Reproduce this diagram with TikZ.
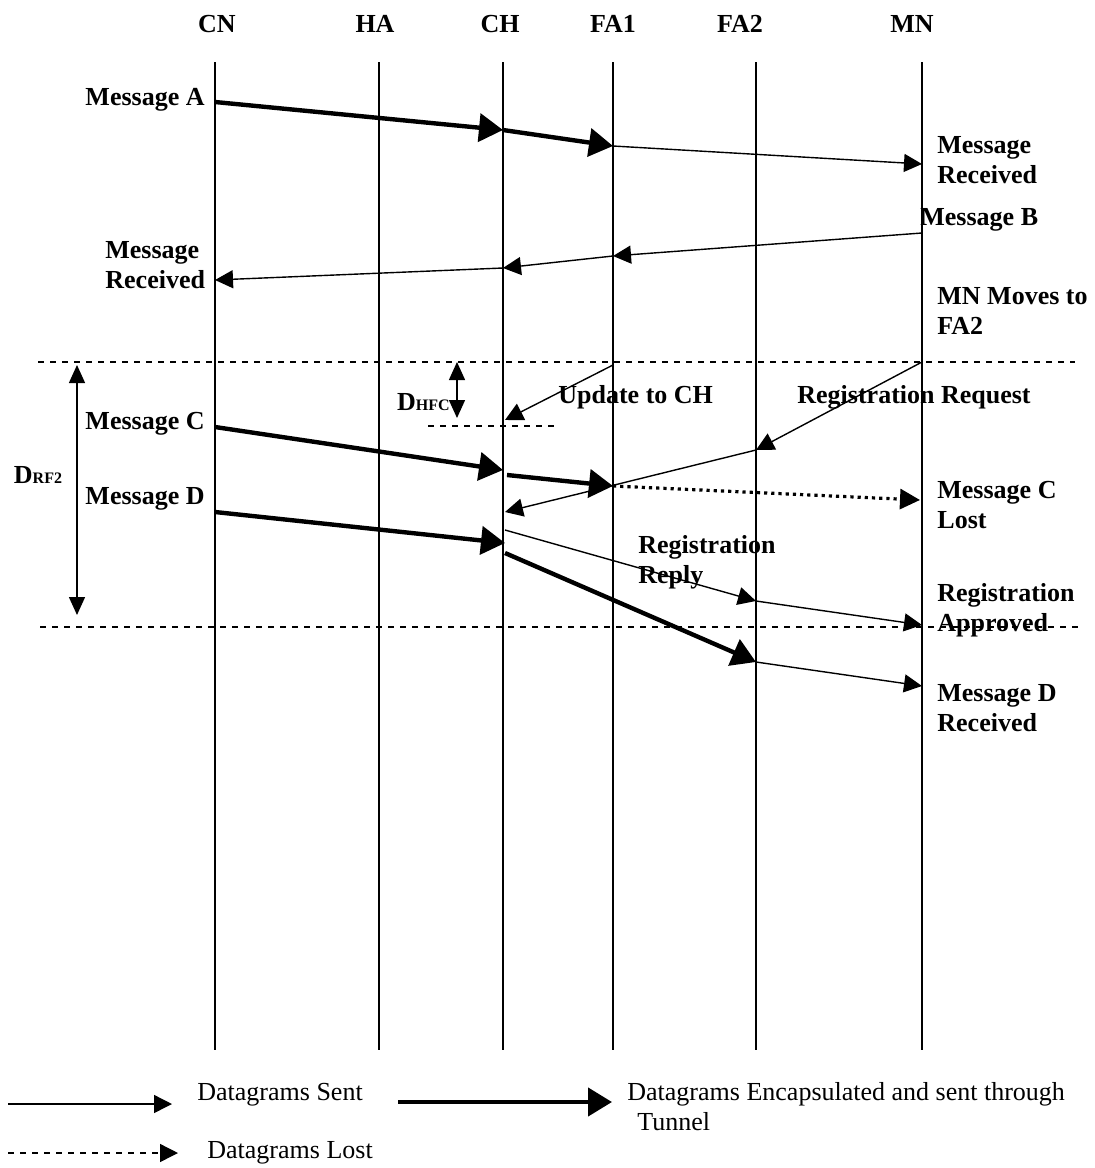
\documentclass[tikz,border=0pt]{standalone}
\usepackage{fontspec}
\setmainfont{Liberation Serif}
\usetikzlibrary{arrows.meta, positioning}
\tikzset{
  head/.style={font=\bfseries\fontsize{13}{15}\selectfont, inner sep=1pt},
  lbl/.style={font=\bfseries\fontsize{13}{15}\selectfont, align=left, inner sep=1pt},
  legend/.style={font=\fontsize{13}{15}\selectfont, align=left, inner sep=1pt},
  lifeline/.style={line width=0.7pt},
  sent/.style={line width=0.7pt, -{Triangle[length=9pt,width=9pt]}},
  tunnel/.style={line width=2.2pt, -{Triangle[length=12pt,width=14pt]}},
  lost/.style={line width=1.6pt, dotted, -{Triangle[length=10pt,width=10pt]}},
  lostkey/.style={line width=0.7pt, dashed, -{Triangle[length=9pt,width=9pt]}},
  divider/.style={line width=0.7pt, dashed},
  span/.style={line width=0.7pt, {Triangle[length=9pt,width=8pt]}-{Triangle[length=9pt,width=8pt]}}
}

\begin{document}
\begin{tikzpicture}[x=0.5pt, y=-0.5pt]
\useasboundingbox (0,0) rectangle (1095,1168);

% lifelines
\foreach \n/\t/\x/\hx in {cn/CN/215/217, ha/HA/379/375, ch/CH/503/500,
                          fa1/FA1/613/613, fa2/FA2/756/740, mn/MN/922/912} {
  \node[head] (\n) at (\hx,24) {\t};
  \coordinate (\n-top) at (\x,62);
  \coordinate (\n-bot) at (\x,1050);
  \draw[lifeline] (\n-top) -- (\n-bot);
}

% Message A
\coordinate (a0) at (215,102);
\coordinate (a1) at (503,130);
\coordinate (a2) at (613,146);
\coordinate (a3) at (922,164);
\draw[tunnel] (a0) -- (a1);
\draw[tunnel] (a1) -- (a2);
\draw[sent] (a2) -- (a3);
\node[lbl, anchor=east] (labA) at (207,100) {Message A};
\node[lbl, anchor=west] (recA) at (935,160) {Message\\Received};

% Message B
\coordinate (b0) at (922,233);
\coordinate (b1) at (613,256);
\coordinate (b2) at (503,268);
\coordinate (b3) at (215,280);
\draw[sent] (b0) -- (b1);
\draw[sent] (b1) -- (b2);
\draw[sent] (b2) -- (b3);
\node[lbl, anchor=west] (labB) at (918,220) {Message B};
\node[lbl, anchor=west] (recB) at (103,265) {Message\\Received};
\node[lbl, anchor=west] (move) at (935,311) {MN Moves to\\FA2};

% handoff window
\draw[divider] (38,362) -- (1075,362);
\draw[divider] (40,627) -- (1080,627);
\draw[divider] (428,426) -- (555,426);
\coordinate (drf-t) at (77,365);
\coordinate (drf-b) at (77,615);
\draw[span] (drf-t) -- (drf-b);
\node[lbl] (drf) at (38,475) {D\footnotesize RF2};
\coordinate (dhfc-t) at (457,362);
\coordinate (dhfc-b) at (457,418);
\draw[span] (dhfc-t) -- (dhfc-b);
\node[lbl, anchor=east] (dhfc) at (452,402) {D\footnotesize HFC};

% Update and registration
\coordinate (u0) at (613,365);
\coordinate (u1) at (505,420);
\draw[sent] (u0) -- (u1);
\node[lbl, anchor=west] (upd) at (556,397) {Update to CH};
\coordinate (r0) at (922,362);
\coordinate (r1) at (756,450);
\coordinate (r2) at (505,512);
\draw[sent] (r0) -- (r1);
\draw[sent] (r1) -- (r2);
\node[lbl, anchor=west] (req) at (795,397) {Registration Request};

% Message C
\coordinate (c0) at (215,427);
\coordinate (c1) at (503,470);
\coordinate (c2) at (507,475);
\coordinate (c3) at (613,486);
\coordinate (c4) at (920,500);
\draw[tunnel] (c0) -- (c1);
\draw[tunnel] (c2) -- (c3);
\draw[lost] (c3) -- (c4);
\node[lbl, anchor=east] (labC) at (207,424) {Message C};
\node[lbl, anchor=west] (lostC) at (935,505) {Message C\\Lost};

% Message D
\coordinate (d0) at (215,512);
\coordinate (d1) at (505,543);
\coordinate (d2) at (505,553);
\coordinate (d3) at (756,662);
\coordinate (d4) at (922,686);
\draw[tunnel] (d0) -- (d1);
\draw[tunnel] (d2) -- (d3);
\draw[sent] (d3) -- (d4);
\node[lbl, anchor=east] (labD) at (207,499) {Message D};
\node[lbl, anchor=west] (recD) at (935,708) {Message D\\Received};

% Registration reply
\coordinate (p0) at (505,530);
\coordinate (p1) at (756,601);
\coordinate (p2) at (922,625);
\draw[sent] (p0) -- (p1);
\draw[sent] (p1) -- (p2);
\node[lbl, anchor=west] (rep) at (636,562) {Registration\\Reply};
\node[lbl, anchor=west] (appr) at (935,610) {Registration\\Approved};

% legend
\coordinate (k1a) at (8,1104);
\coordinate (k1b) at (172,1104);
\draw[sent] (k1a) -- (k1b);
\node[legend, anchor=west] (ksent) at (195,1095) {Datagrams Sent};
\coordinate (k2a) at (398,1102);
\coordinate (k2b) at (612,1102);
\draw[tunnel] (k2a) -- (k2b);
\node[legend, anchor=west] (ktun) at (625,1107) {Datagrams Encapsulated and sent through\\\hspace{5pt}Tunnel};
\coordinate (k3a) at (8,1153);
\coordinate (k3b) at (178,1153);
\draw[lostkey] (k3a) -- (k3b);
\node[legend, anchor=west] (klost) at (205,1153) {Datagrams Lost};
\end{tikzpicture}
\end{document}
